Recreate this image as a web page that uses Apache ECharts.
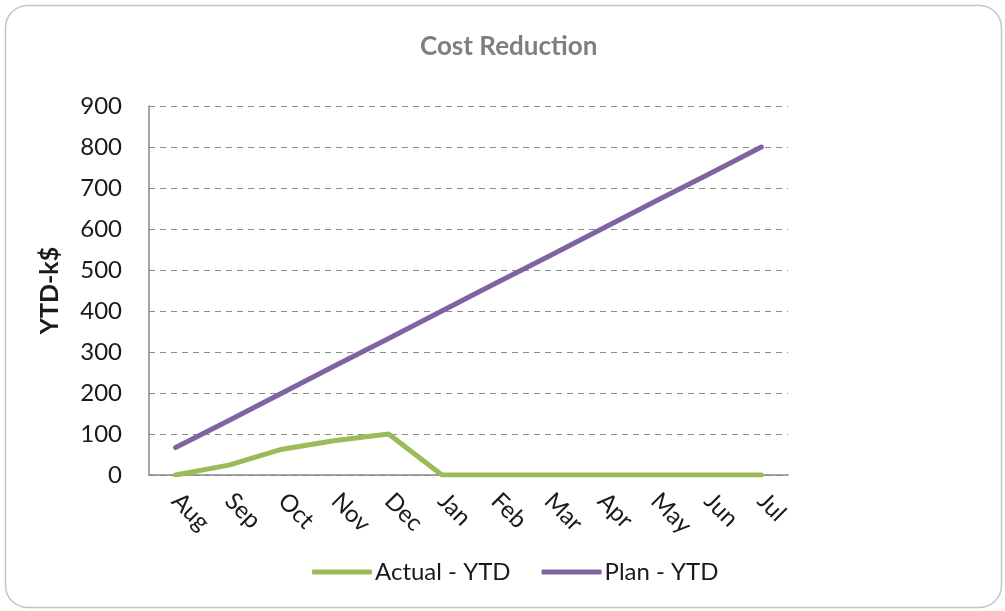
<!DOCTYPE html>
<html>
<head>
<meta charset="utf-8">
<script src="https://cdn.jsdelivr.net/npm/echarts@6/dist/echarts.min.js"></script>
<style>
  html, body { margin: 0; padding: 0; background: #fff; }
  #chart { width: 1005px; height: 611px; }
</style>
</head>
<body>
<div id="chart"></div>
<script>
const months = ['Aug', 'Sep', 'Oct', 'Nov', 'Dec', 'Jan', 'Feb', 'Mar', 'Apr', 'May', 'Jun', 'Jul'];
const actualYtd = [0, 24, 63, 84, 100, 0, 0, 0, 0, 0, 0, 0];
const planYtd = [67, 133, 200, 267, 333, 400, 467, 533, 600, 667, 733, 800];

var dom = document.getElementById('chart');
var myChart = echarts.init(dom, null, { renderer: 'canvas' });

const fontFam = 'Lato, "Liberation Sans", sans-serif';

const option = {
    animation: false,
    backgroundColor: '#ffffff',
    graphic: [{
        type: 'rect',
        shape: { x: 5.5, y: 5.5, width: 996, height: 602, r: 22 },
        style: { fill: 'none', stroke: '#c4c4c4', lineWidth: 1.5 }
    }],
    title: {
        text: 'Cost Reduction',
        left: 420,
        top: 34,
        padding: 0,
        textStyle: {
            fontFamily: fontFam,
            fontSize: 26,
            fontWeight: 'bold',
            color: '#7f7f7f'
        }
    },
    legend: {
        left: 312,
        top: 560,
        padding: 0,
        icon: 'roundRect',
        itemWidth: 60,
        itemHeight: 5,
        itemGap: 31,
        textStyle: {
            fontFamily: fontFam,
            fontSize: 24,
            color: '#1a1a1a',
            padding: [0, 0, 0, -2]
        },
        data: ['Actual - YTD', 'Plan - YTD']
    },
    grid: {
        left: 149,
        right: 217,
        top: 106,
        bottom: 136
    },
    xAxis: {
        type: 'category',
        data: months,
        boundaryGap: true,
        axisLine: { lineStyle: { color: '#868686', width: 1.5 } },
        axisTick: { show: false },
        axisLabel: {
            rotate: -45,
            margin: 22,
            fontFamily: fontFam,
            fontSize: 24,
            color: '#1a1a1a'
        }
    },
    yAxis: {
        type: 'value',
        min: 0,
        max: 900,
        interval: 100,
        name: 'YTD-k$',
        nameLocation: 'middle',
        nameRotate: 90,
        nameGap: 87,
        nameTextStyle: {
            fontFamily: fontFam,
            fontSize: 25,
            fontWeight: 'bold',
            color: '#1a1a1a'
        },
        axisLine: { show: true, lineStyle: { color: '#868686', width: 1.5 } },
        axisTick: { show: false },
        axisLabel: {
            margin: 27,
            fontFamily: fontFam,
            fontSize: 24,
            color: '#1a1a1a'
        },
        splitLine: {
            lineStyle: { color: '#8c8c8c', type: [6, 5], width: 1 }
        }
    },
    series: [
        {
            name: 'Actual - YTD',
            type: 'line',
            data: actualYtd,
            showSymbol: false,
            symbol: 'none',
            lineStyle: { color: '#9bbb59', width: 5, cap: 'round', join: 'round' },
            itemStyle: { color: '#9bbb59' }
        },
        {
            name: 'Plan - YTD',
            type: 'line',
            data: planYtd,
            showSymbol: false,
            symbol: 'none',
            lineStyle: { color: '#8064a2', width: 5, cap: 'round', join: 'round' },
            itemStyle: { color: '#8064a2' }
        }
    ]
};

myChart.setOption(option);
window.addEventListener('resize', myChart.resize);
</script>
</body>
</html>
